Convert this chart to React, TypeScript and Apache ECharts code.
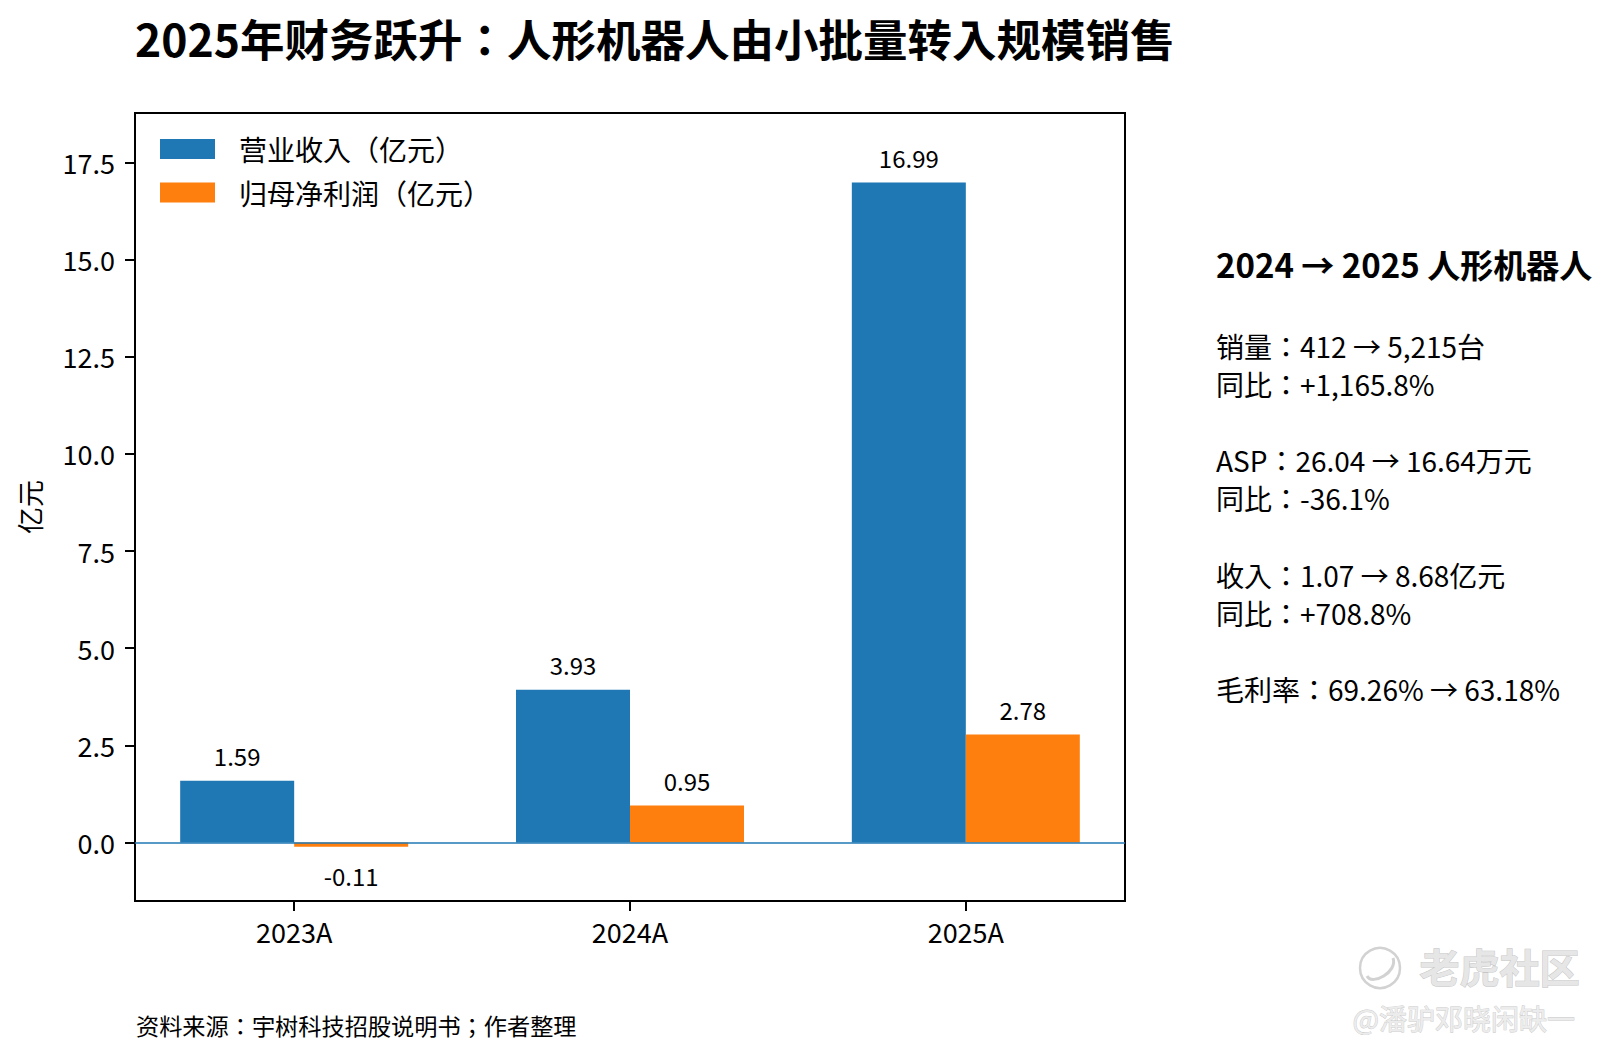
import React, { useEffect, useRef } from "react";
import * as echarts from "echarts";

const FONT = '"Noto Sans CJK JP", "Noto Sans CJK SC", "Noto Sans", sans-serif';

const titleText = "2025年财务跃升：人形机器人由小批量转入规模销售";
const categories = ["2023A", "2024A", "2025A"];
const revenueName = "营业收入（亿元）";
const profitName = "归母净利润（亿元）";
const revenue = [1.59, 3.93, 16.99];
const netProfit = [-0.11, 0.95, 2.78];
const yTicks = [0, 2.5, 5, 7.5, 10, 12.5, 15, 17.5];
const yMin = -1.507;
const yMax = 18.776;
const xMin = -0.474;
const xMax = 2.474;
const yAxisName = "亿元";
const sideTitle = "2024 → 2025 人形机器人";
const sideLines = [
  "销量：412 → 5,215台",
  "同比：+1,165.8%",
  "",
  "ASP：26.04 → 16.64万元",
  "同比：-36.1%",
  "",
  "收入：1.07 → 8.68亿元",
  "同比：+708.8%",
  "",
  "毛利率：69.26% → 63.18%",
];
const sourceNote = "资料来源：宇树科技招股说明书；作者整理";
const watermarkMain = "老虎社区";
const watermarkUser = "@潘驴邓晓闲缺一";

const BLUE = "#1f77b4";
const ORANGE = "#ff7f0e";

export default function App() {
  const ref = useRef<HTMLDivElement>(null);

  useEffect(() => {
    document.body.style.margin = "0";
    const chart = echarts.init(ref.current!, undefined, { renderer: "svg" });

    const catIdx = categories.map((_, i) => i);
    const revenueData = revenue.map((v, i) => ({ value: [catIdx[i], v] }));
    const profitData = netProfit.map((v, i) =>
      v < 0
        ? { value: [catIdx[i], v], label: { position: "bottom", distance: 17 } }
        : { value: [catIdx[i], v] }
    );

    const labelCfg = {
      show: true,
      position: "top",
      distance: 13,
      fontFamily: FONT,
      fontSize: 24,
      color: "#000",
      formatter: (p: any) => Number(p.value[1]).toFixed(2),
    };

    const option: any = {
      animation: false,
      backgroundColor: "#ffffff",
      textStyle: { fontFamily: FONT, color: "#000" },
      title: {
        text: titleText,
        left: 130,
        top: 10,
        textStyle: { fontFamily: FONT, fontSize: 44.5, fontWeight: "bold", color: "#000" },
      },
      legend: {
        orient: "vertical",
        left: 160,
        top: 135,
        padding: 0,
        icon: "rect",
        itemWidth: 55,
        itemHeight: 20,
        itemGap: 15.5,
        textStyle: { fontFamily: FONT, fontSize: 28, color: "#000", padding: [0, 0, 0, 19] },
        data: [revenueName, profitName],
      },
      grid: {
        left: 135,
        top: 113,
        width: 990,
        height: 788,
        show: true,
        borderColor: "#000",
        borderWidth: 2,
        backgroundColor: "transparent",
      },
      xAxis: {
        type: "value",
        min: xMin,
        max: xMax,
        axisLine: { show: false, onZero: false },
        axisTick: {
          show: true,
          length: 10,
          customValues: catIdx,
          lineStyle: { color: "#000", width: 2 },
        },
        axisLabel: {
          fontFamily: FONT,
          fontSize: 27,
          color: "#000",
          margin: 17,
          customValues: catIdx,
          formatter: (v: number) => categories[Math.round(v)] ?? "",
        },
        splitLine: { show: false },
      },
      yAxis: {
        type: "value",
        min: yMin,
        max: yMax,
        name: yAxisName,
        nameLocation: "middle",
        nameRotate: 90,
        nameGap: 92,
        nameTextStyle: { fontFamily: FONT, fontSize: 27, color: "#000" },
        axisLine: { show: false, onZero: false },
        axisTick: {
          show: true,
          length: 10,
          customValues: yTicks,
          lineStyle: { color: "#000", width: 2 },
        },
        axisLabel: {
          fontFamily: FONT,
          fontSize: 27,
          color: "#000",
          margin: 20,
          customValues: yTicks,
          formatter: (v: number) => v.toFixed(1),
        },
        splitLine: { show: false },
      },
      series: [
        {
          name: revenueName,
          type: "bar",
          data: revenueData,
          barWidth: 114,
          barGap: "0%",
          itemStyle: { color: BLUE },
          label: labelCfg,
          markLine: {
            silent: true,
            symbol: "none",
            label: { show: false },
            lineStyle: { color: BLUE, width: 1.5, type: "solid" },
            data: [{ yAxis: 0 }],
            z: 10,
          },
        },
        {
          name: profitName,
          type: "bar",
          data: profitData,
          barWidth: 114,
          barGap: "0%",
          itemStyle: { color: ORANGE },
          label: labelCfg,
        },
      ],
      graphic: [
        {
          type: "text",
          left: 1216,
          top: 247,
          style: {
            text: sideTitle,
            font: `bold 33px ${FONT}`,
            fill: "#000",
          },
        },
        {
          type: "text",
          left: 1216,
          top: 327,
          style: {
            text: sideLines.join("\n"),
            font: `28px ${FONT}`,
            lineHeight: 38.1,
            fill: "#000",
          },
        },
        {
          type: "text",
          left: 136,
          top: 1013,
          style: {
            text: sourceNote,
            font: `23.2px ${FONT}`,
            fill: "#000",
          },
        },
        {
          type: "circle",
          shape: { cx: 1380, cy: 968, r: 20 },
          style: { fill: "none", stroke: "#d2d2d2", lineWidth: 2.5 },
        },
        {
          type: "bezierCurve",
          shape: { x1: 1367, y1: 976, x2: 1393, y2: 958, cpx1: 1372, cpy1: 986, cpx2: 1398, cpy2: 972 },
          style: { fill: "none", stroke: "#d2d2d2", lineWidth: 3 },
        },
        {
          type: "text",
          left: 1419,
          top: 945,
          style: {
            text: watermarkMain,
            font: `bold 40px ${FONT}`,
            fill: "#e6e6e6",
            stroke: "#c6c6c6",
            lineWidth: 1,
          },
        },
        {
          type: "text",
          left: 1352,
          top: 1004,
          style: {
            text: watermarkUser,
            font: `28px ${FONT}`,
            fill: "#ececec",
            stroke: "#c8c8c8",
            lineWidth: 0.8,
          },
        },
      ],
    };

    chart.setOption(option);
    return () => chart.dispose();
  }, []);

  return (
    <div
      ref={ref}
      style={{ position: "absolute", left: 0, top: 0, width: 1614, height: 1060, background: "#fff" }}
    />
  );
}
